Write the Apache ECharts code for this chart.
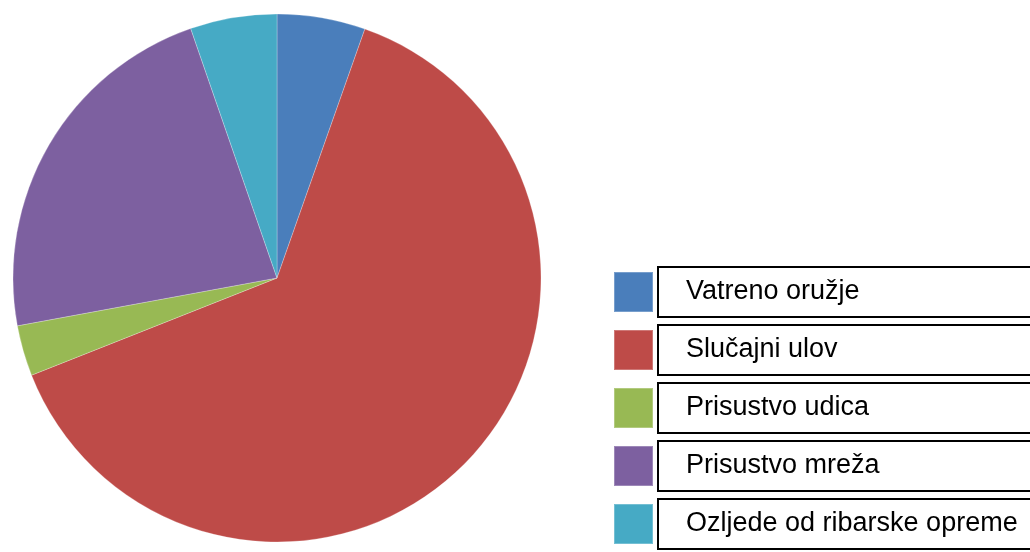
<!DOCTYPE html>
<html>
<head>
<meta charset="utf-8">
<script src="https://cdn.jsdelivr.net/npm/echarts@6/dist/echarts.min.js"></script>
<style>html,body{margin:0;padding:0;background:#fff}#c{width:1030px;height:552px}</style>
</head>
<body>
<div id="c"></div>
<script>
const categories = ['Vatreno oružje', 'Slučajni ulov', 'Prisustvo udica', 'Prisustvo mreža', 'Ozljede od ribarske opreme'];
const values = [5.4, 63.6, 3.1, 22.6, 5.3];
const colors = ['#4A7EBB', '#BE4B48', '#98B954', '#7D60A0', '#46AAC5'];

const chart = echarts.init(document.getElementById('c'));
chart.setOption({
  animation: false,
  backgroundColor: '#fff',
  color: colors,
  legend: {
    orient: 'vertical',
    left: 613,
    top: 266,
    height: 286,
    padding: 0,
    itemWidth: 39,
    itemHeight: 40,
    itemGap: 6,
    icon: 'rect',
    data: categories,
    textStyle: {
      fontFamily: 'Liberation Sans, Arial, sans-serif',
      fontSize: 27,
      color: '#000',
      width: 380,
      height: 45,
      lineHeight: 45,
      borderColor: '#000',
      borderWidth: 2,
      padding: [5, 0, 0, 28]
    }
  },
  series: [{
    type: 'pie',
    center: [277, 278],
    radius: [0, 264],
    startAngle: 90,
    clockwise: true,
    label: { show: false },
    labelLine: { show: false },
    itemStyle: { borderColor: 'rgba(255,255,255,0.25)', borderWidth: 1 },
    emphasis: { disabled: true },
    data: categories.map((n, i) => ({ name: n, value: values[i] }))
  }]
});
</script>
</body>
</html>
